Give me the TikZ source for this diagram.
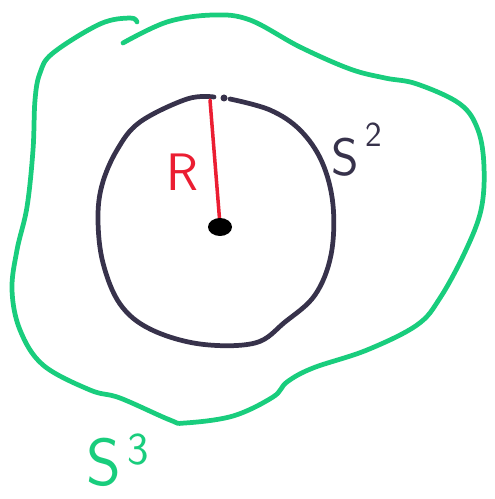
\documentclass[tikz,border=0pt]{standalone}
\usepackage{amsmath}
\usepackage{tikz}
\usetikzlibrary{shapes.geometric}

\definecolor{mygreen}{RGB}{25,205,125}
\definecolor{myink}{RGB}{55,50,75}
\definecolor{myred}{RGB}{235,30,50}

\begin{document}
\begin{tikzpicture}[x=0.02cm,y=-0.02cm]
\tikzstyle{pen}= [line width=2.7pt, line cap=round, line join=round]
\tikzstyle{lab}= [inner sep=0pt, font=\fontsize{30}{36}\selectfont\sffamily]
\useasboundingbox (0,0) rectangle (494,499);
%S^3
\draw[pen, mygreen] plot[smooth, tension=0.6] coordinates {(123,43) (167,22) (213,15) (250,20) (300,47) (350,69) (385,78) (417,84) (460,104) (478,130) (484,167) (481,210) (465,252) (440,298) (417,325) (367,350) (313,368) (287,382) (273,397) (233,416) (185,423) (170,420) (120,398) (90,390) (43,365) (20,330) (12,290) (17,250) (27,207) (33,150) (35,100) (40,73) (53,53) (100,24) (130,18) (137,22)};
%S^2
\draw[pen, myink] plot[smooth, tension=0.6] coordinates {(230,99) (270,110) (300,130) (322,162) (333,205) (331,255) (315,295) (285,322) (255,343) (200,344) (150,329) (120,304) (103,263) (98,220) (102,185) (117,150) (140,122) (187,99) (214,97)};
\fill[myink] (224,98) circle (3.5);
%centre
\coordinate (top) at (210,100);
\coordinate (c) at (220,225);
\draw[line width=2pt, myred, line cap=round] (c) -- (top);
\node[ellipse, fill=black, minimum width=0.48cm, minimum height=0.36cm, inner sep=0pt] (o) at (220,227) {};
%labels
\node[lab, text=myred] (r) at (182,172) {R};
\node[lab, text=myink] (s2) at (345,157) {S};
\node[lab, text=myink, font=\fontsize{20}{24}\selectfont\sffamily] (two) at (374,135) {2};
\node[lab, text=mygreen, font=\fontsize{38}{46}\selectfont\sffamily] (s3) at (104,462) {S};
\node[lab, text=mygreen, font=\fontsize{26}{30}\selectfont\sffamily] (three) at (138,450) {3};
\end{tikzpicture}
\end{document}
